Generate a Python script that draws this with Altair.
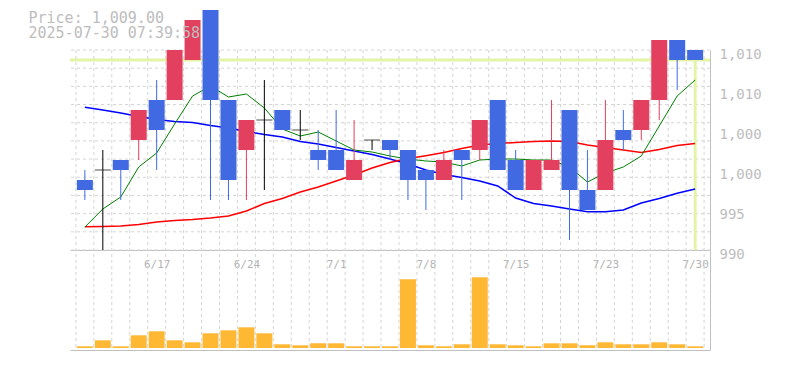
import altair as alt
import pandas as pd

# ---------------- data ----------------
dates = ["6/11", "6/12", "6/13", "6/16", "6/17", "6/18", "6/19", "6/20", "6/23", "6/24",
         "6/25", "6/26", "6/27", "6/30", "7/1", "7/2", "7/3", "7/4", "7/7", "7/8",
         "7/9", "7/10", "7/11", "7/14", "7/15", "7/16", "7/17", "7/18", "7/22", "7/23",
         "7/24", "7/25", "7/28", "7/29", "7/30"]
opens = [997, 998, 999, 1001, 1005, 1005, 1009, 1014, 1005, 1000,
         1003, 1004, 1002, 1000, 1000, 997, 1001, 1001, 1000, 998,
         997, 1000, 1000, 1005, 999, 996, 998, 1004, 996, 996,
         1002, 1002, 1005, 1011, 1010]
highs = [998, 1000, 999, 1004, 1007, 1010, 1013, 1014, 1005, 1003,
         1007, 1004, 1004, 1002, 1004, 1003, 1001, 1001, 1000, 998,
         1000, 1000, 1003, 1005, 1000, 999, 1005, 1004, 1000, 1005,
         1004, 1005, 1011, 1011, 1010]
lows = [995, 990, 995, 999, 998, 1005, 1009, 995, 995, 995,
        996, 1002, 1001, 998, 998, 997, 1000, 999, 995, 994,
        997, 995, 999, 998, 996, 996, 998, 991, 994, 996,
        1000, 1001, 1003, 1006, 1009]
closes = [996, 998, 998, 1004, 1002, 1010, 1013, 1005, 997, 1003,
          1003, 1002, 1002, 999, 998, 999, 1001, 1000, 997, 997,
          999, 999, 1003, 998, 996, 999, 999, 996, 994, 1001,
          1001, 1005, 1011, 1009, 1009]
volumes = [17, 77, 17, 127, 167, 77, 57, 147, 177, 207,
           147, 37, 27, 47, 47, 17, 17, 17, 687, 27,
           17, 37, 707, 37, 27, 17, 47, 47, 27, 57,
           37, 37, 57, 37, 17]
ma_green = [992.3, 994.1, 995.3, 998.3, 999.7, 1002.6, 1005.4, 1006.4, 1005.3, 1005.6,
            1004.2, 1002.1, 1001.4, 1001.8, 1000.9, 1000.0, 999.8, 999.4, 999.1, 998.9,
            998.8, 998.4, 999.0, 999.1, 999.1, 999.0, 999.0, 998.3, 996.8, 997.7,
            998.3, 999.4, 1002.4, 1005.4, 1007.0]
ma_blue = [1004.27, 1004.0, 1003.7, 1003.35, 1003.05, 1002.85, 1002.75, 1002.45, 1002.2, 1001.85,
           1001.55, 1001.3, 1000.85, 1000.6, 1000.25, 999.9, 999.55, 999.1, 998.6, 998.0,
           997.55, 997.25, 996.9, 996.4, 995.2, 994.65, 994.4, 994.1, 993.83, 993.83,
           994.0, 994.7, 995.15, 995.67, 996.1]
ma_red = [992.33, 992.35, 992.4, 992.55, 992.8, 992.95, 993.05, 993.2, 993.4, 993.9,
          994.65, 995.15, 995.8, 996.3, 996.9, 997.5, 998.2, 998.75, 999.15, 999.43,
          999.75, 1000.15, 1000.5, 1000.65, 1000.75, 1000.85, 1000.9, 1000.85, 1000.5, 1000.25,
          1000.0, 999.75, 1000.05, 1000.45, 1000.65]
label_idx = [4, 9, 14, 19, 24, 29, 34]
price_ticks = [990, 994, 998, 1002, 1006, 1010]
price_tick_text = ["990", "995", "1,000", "1,000", "1,010", "1,010"]
last_price = 1009
price_floor = 990
title_lines = ["Price: 1,009.00", "2025-07-30 07:39:58"]
grid_rows = list(range(12))
grid_cols = [k - 0.5 for k in range(len(dates) + 1)]

# ---------------- styling ----------------
RED = "#e2405e"
BLUE = "#4169e1"
ORANGE = "#ffb833"
YELLOW = "#e3f4a6"
GRID = "#d4d4d4"
AXIS = "#c0c0c0"
FONT = "DejaVu Sans Mono"

n = len(dates)
df = pd.DataFrame({
    "i": list(range(n)), "date": dates, "open": opens, "high": highs,
    "low": lows, "close": closes, "vol": volumes,
    "ma5": ma_green, "ma25": ma_blue, "ma75": ma_red,
})
df["dir"] = ["up" if c > o else ("down" if c < o else "doji") for o, c in zip(opens, closes)]

x_label_expr = " : ".join(f"datum.value == {k} ? '{dates[k]}'" for k in label_idx) + " : ''"
y_label_expr = " : ".join(f"datum.value == {v} ? '{t}'" for v, t in zip(price_ticks, price_tick_text)) + " : ''"

xs = alt.Scale(domain=[-0.55, 34.55], nice=False, zero=False)
ys_price = alt.Scale(domain=[990, 1010], range=[200, 0], nice=False, zero=False)
ys_vol = alt.Scale(domain=[-20, 980], range=[300, 200], nice=False, zero=False)
ys_grid = alt.Scale(domain=[0, 11], range=[200, 0], nice=False, zero=False)

x_price_axis = alt.Axis(orient="bottom", offset=-100, values=label_idx, labelExpr=x_label_expr,
                        domain=True, domainColor=AXIS, ticks=False, tickSize=0, grid=False,
                        labelPadding=8, labelFont=FONT, labelFontSize=11, labelColor="#b3b3b3",
                        labelFlush=False, labelOverlap=False, title=None)
x_vol_axis = alt.Axis(orient="bottom", domain=True, domainColor=AXIS, ticks=False, labels=False,
                      grid=False, title=None)
y_price_axis = alt.Axis(orient="right", values=price_ticks, labelExpr=y_label_expr,
                        domain=True, domainColor=AXIS, ticks=False, tickSize=0, grid=False,
                        labelPadding=9, labelFont=FONT, labelFontSize=14, labelColor="#bdbdbd",
                        labelBaseline="alphabetic", labelOffset=8, labelFlush=False,
                        labelOverlap=False, title=None)
y_vol_axis = alt.Axis(orient="right", domain=True, domainColor=AXIS, ticks=False, labels=False,
                      grid=False, title=None)

X = alt.X("i:Q", scale=xs, axis=x_price_axis)


def Yp(field):
    return alt.Y(field, scale=ys_price, axis=y_price_axis)


cscale = alt.Scale(domain=["up", "down", "doji"], range=[RED, BLUE, "black"])
base = alt.Chart(df)

hgrid = alt.Chart(pd.DataFrame({"g": grid_rows})).mark_rule(
    color=GRID, strokeDash=[3, 3], strokeWidth=1).encode(
    y=alt.Y("g:Q", scale=ys_grid, axis=None))
vgrid = alt.Chart(pd.DataFrame({"gx": grid_cols})).mark_rule(
    color=GRID, strokeDash=[3, 3], strokeWidth=1).encode(
    x=alt.X("gx:Q", scale=xs, axis=None))

yellow_h = alt.Chart(pd.DataFrame({"p": [last_price]})).mark_rule(
    color=YELLOW, strokeWidth=3).encode(y=Yp("p:Q"))
yellow_v = alt.Chart(pd.DataFrame({"i": [n - 1], "p": [last_price], "b": [price_floor]})).mark_rule(
    color=YELLOW, strokeWidth=3).encode(x=X, y=Yp("p:Q"), y2="b:Q")

line_blue = base.mark_line(color="#0000ff", strokeWidth=1.5).encode(x=X, y=Yp("ma25:Q"))
line_red = base.mark_line(color="#ff0000", strokeWidth=1.5).encode(x=X, y=Yp("ma75:Q"))
line_green = base.mark_line(color="#008000", strokeWidth=1).encode(x=X, y=Yp("ma5:Q"))

wicks = base.mark_rule(strokeWidth=1).encode(
    x=X, y=Yp("low:Q"), y2="high:Q",
    color=alt.Color("dir:N", scale=cscale, legend=None))
boxes = base.transform_filter("datum.dir != 'doji'").mark_bar(width=16).encode(
    x=X, y=Yp("open:Q"), y2="close:Q",
    color=alt.Color("dir:N", scale=cscale, legend=None))
doji = base.transform_filter("datum.dir == 'doji'").mark_tick(
    orient="horizontal", size=16, thickness=1, color="black").encode(x=X, y=Yp("open:Q"))

price = alt.layer(yellow_h, yellow_v, line_blue, line_red, line_green, wicks, boxes, doji)

volume = base.mark_bar(width=16, color=ORANGE).encode(
    x=alt.X("i:Q", scale=xs, axis=x_vol_axis),
    y=alt.Y("vol:Q", scale=ys_vol, axis=y_vol_axis),
    y2=alt.datum(0))

chart = alt.layer(hgrid, vgrid, volume, price).resolve_scale(
    y="independent").resolve_axis(x="independent", y="independent").properties(
    width=640, height=300,
    autosize="none",
    padding={"left": 70, "top": 50, "right": 75, "bottom": 20},
    title=alt.Title(text=title_lines, anchor="start", frame="group", dx=-41.5, dy=39.5, offset=8,
                    fontSize=15, font=FONT, fontWeight="normal", color="#bdbdbd", lineHeight=15),
).configure_view(stroke=None)

chart.save("out.html", embed_options={"renderer": "svg", "actions": False})
